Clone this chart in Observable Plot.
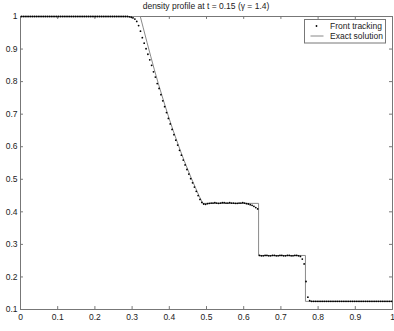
<!DOCTYPE html>
<html>
<head>
<meta charset="utf-8">
<script src="https://cdn.jsdelivr.net/npm/d3@7"></script>
<script src="https://cdn.jsdelivr.net/npm/@observablehq/plot@0.6"></script>
<style>
  html, body { margin: 0; padding: 0; background: #fff; }
  #wrap { position: relative; width: 394px; height: 331px; font-family: "Liberation Sans", Arial, sans-serif; }
  #title { height: 12px; line-height: 12px; font-size: 8.5px; color: #222; text-align: center; padding-left: 18px; width: 376px; white-space: nowrap; }
  #legend { position: absolute; left: 304px; top: 19px; }
</style>
</head>
<body>
<div id="wrap">
  <div id="title">density profile at t = 0.15 (γ = 1.4)</div>
  <div id="chart"></div>
  <svg id="legend" width="82" height="25" font-family="Liberation Sans, Arial, sans-serif" font-size="8.5" fill="#222">
    <rect x="0.5" y="0.5" width="81" height="23.5" fill="#fff" stroke="#777"/>
    <circle cx="12.5" cy="7" r="0.9" fill="#000"/>
    <line x1="6.5" y1="17" x2="19.5" y2="17" stroke="#888" stroke-width="1"/>
    <text x="26" y="10">Front tracking</text>
    <text x="26" y="20">Exact solution</text>
  </svg>
</div>
<script>
// Tick values
const xTicks = [0, 0.1, 0.2, 0.3, 0.4, 0.5, 0.6, 0.7, 0.8, 0.9, 1];
const yTicks = [0.1, 0.2, 0.3, 0.4, 0.5, 0.6, 0.7, 0.8, 0.9, 1];

// Exact solution
const xExact = [0, 0.322, 0.33, 0.34, 0.35, 0.36, 0.37, 0.38, 0.39, 0.40, 0.41, 0.42, 0.43, 0.44, 0.45, 0.46, 0.47, 0.48, 0.49, 0.64, 0.64, 0.766, 0.766, 1];
const rhoExact = [1, 1, 0.965, 0.921, 0.878, 0.836, 0.796, 0.758, 0.721, 0.685, 0.651, 0.619, 0.587, 0.557, 0.529, 0.501, 0.475, 0.449, 0.426, 0.426, 0.266, 0.266, 0.125, 0.125];

// Front tracking cell values
const xFT = [
 .0025,.0075,.0125,.0175,.0225,.0275,.0325,.0375,.0425,.0475,
 .0525,.0575,.0625,.0675,.0725,.0775,.0825,.0875,.0925,.0975,
 .1025,.1075,.1125,.1175,.1225,.1275,.1325,.1375,.1425,.1475,
 .1525,.1575,.1625,.1675,.1725,.1775,.1825,.1875,.1925,.1975,
 .2025,.2075,.2125,.2175,.2225,.2275,.2325,.2375,.2425,.2475,
 .2525,.2575,.2625,.2675,.2725,.2775,.2825,.2875,.2925,.2975,
 .3025,.3075,.3125,.3175,.3225,.3275,.3325,.3375,.3425,.3475,
 .3525,.3575,.3625,.3675,.3725,.3775,.3825,.3875,.3925,.3975,
 .4025,.4075,.4125,.4175,.4225,.4275,.4325,.4375,.4425,.4475,
 .4525,.4575,.4625,.4675,.4725,.4775,.4825,.4875,.4925,.4975,
 .5025,.5075,.5125,.5175,.5225,.5275,.5325,.5375,.5425,.5475,
 .5525,.5575,.5625,.5675,.5725,.5775,.5825,.5875,.5925,.5975,
 .6025,.6075,.6125,.6175,.6225,.6275,.6325,.6375,.6425,.6475,
 .6525,.6575,.6625,.6675,.6725,.6775,.6825,.6875,.6925,.6975,
 .7025,.7075,.7125,.7175,.7225,.7275,.7325,.7375,.7425,.7475,
 .7525,.7575,.7625,.7675,.7725,.7775,.7825,.7875,.7925,.7975,
 .8025,.8075,.8125,.8175,.8225,.8275,.8325,.8375,.8425,.8475,
 .8525,.8575,.8625,.8675,.8725,.8775,.8825,.8875,.8925,.8975,
 .9025,.9075,.9125,.9175,.9225,.9275,.9325,.9375,.9425,.9475,
 .9525,.9575,.9625,.9675,.9725,.9775,.9825,.9875,.9925,.9975
];
const rhoFT = [
 1,1,1,1,1,1,1,1,1,1,
 1,1,1,1,1,1,1,1,1,1,
 1,1,1,1,1,1,1,1,1,1,
 1,1,1,1,1,1,1,1,1,1,
 1,1,1,1,1,1,1,1,1,1,
 1,1,1,1,1,1,1,1,.999,.998,
 .996,.992,.985,.972,.955,.935,.918,.901,.884,.867,
 .850,.830,.814,.794,.779,.760,.741,.723,.705,.687,
 .670,.653,.637,.620,.605,.589,.574,.559,.544,.530,
 .516,.502,.489,.476,.463,.450,.438,.429,.424,.423,
 .425,.426,.427,.427,.428,.427,.426,.427,.428,.428,
 .427,.427,.428,.427,.427,.426,.426,.427,.427,.428,
 .427,.425,.424,.422,.420,.417,.413,.409,.266,.265,
 .265,.266,.266,.265,.265,.266,.266,.265,.265,.266,
 .266,.265,.265,.266,.266,.265,.265,.266,.266,.265,
 .263,.255,.240,.186,.138,.127,.125,.125,.125,.125,
 .125,.125,.125,.125,.125,.125,.125,.125,.125,.125,
 .125,.125,.125,.125,.125,.125,.125,.125,.125,.125,
 .125,.125,.125,.125,.125,.125,.125,.125,.125,.125,
 .125,.125,.125,.125,.125,.125,.125,.125,.125,.125
];

const exact = xExact.map((x, i) => ({x, rho: rhoExact[i]}));
const ft = xFT.map((x, i) => ({x, rho: rhoFT[i]}));

const chart = Plot.plot({
  width: 394,
  height: 319,
  marginTop: 4,
  marginBottom: 22,
  marginLeft: 20,
  marginRight: 2,
  x: {domain: [0, 1], label: null},
  y: {domain: [0.1, 1], label: null},
  style: {fontFamily: "'Liberation Sans', Arial, sans-serif", fontSize: "8.5px", color: "#222", background: "white", overflow: "visible"},
  marks: [
    Plot.frame({stroke: "#777"}),
    Plot.ruleX(xTicks, {x: d => d, y1: 0.1, y2: 0.109, stroke: "#777"}),
    Plot.ruleX(xTicks, {x: d => d, y1: 1, y2: 0.991, stroke: "#777"}),
    Plot.ruleY(yTicks, {y: d => d, x1: 0, x2: 0.008, stroke: "#777"}),
    Plot.ruleY(yTicks, {y: d => d, x1: 1, x2: 0.992, stroke: "#777"}),
    Plot.axisX({ticks: xTicks, tickSize: 0, tickPadding: 4, tickFormat: d => String(d), label: null}),
    Plot.axisY({ticks: yTicks, tickSize: 0, tickPadding: 3, tickFormat: d => String(d), label: null}),
    Plot.line(exact, {x: "x", y: "rho", stroke: "#8a8a8a", strokeWidth: 1}),
    Plot.dot(ft, {x: "x", y: "rho", r: 0.9, fill: "#000", stroke: null})
  ]
});
document.getElementById("chart").appendChild(chart);
</script>
</body>
</html>
